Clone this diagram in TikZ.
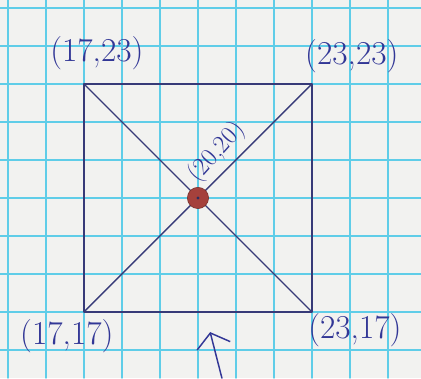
\documentclass[tikz,border=0pt]{standalone}
\usepackage{tikz}
\usetikzlibrary{arrows.meta,calc,positioning}
\definecolor{paperwhite}{RGB}{242,242,240}
\definecolor{gridcyan}{RGB}{95,205,232}
\definecolor{inkblue}{RGB}{55,58,120}
\definecolor{penblue}{RGB}{50,55,150}
\definecolor{dotred}{RGB}{165,65,60}

\tikzset{
  corner label/.style={text=penblue,font=\fontsize{25}{27}\selectfont,inner sep=0pt},
}

\begin{document}
\begin{tikzpicture}[>=Stealth,line cap=round,line join=round,x=1cm,y=1cm]
 \useasboundingbox (14.79,15.26) rectangle (25.87,25.21);
 \fill[paperwhite] (14.79,15.26) rectangle (25.87,25.21);
 \draw[gridcyan,line width=.9pt] (14.79,15.26) grid[step=1] (25.87,25.21);
 \coordinate (ll) at (17,17);
 \coordinate (lr) at (23,17);
 \coordinate (ur) at (23,23);
 \coordinate (ul) at (17,23);
 \draw[inkblue,line width=1.2pt] (ll) -- (lr) -- (ur) -- (ul) -- cycle;
 \draw[inkblue,line width=1pt] (ll) -- (ur);
 \draw[inkblue,line width=1pt] (ul) -- (lr);
 \node[circle,fill=dotred,draw=dotred!70!black,minimum size=.56cm,inner sep=0pt] (c) at (20,20) {};
 \fill[inkblue!80!black] (c) circle(1.2pt);
 \node[corner label] (ulab) at (17.34,23.82) {(17,23)};
 \node[corner label] (urlab) at (24.05,23.74) {(23,23)};
 \node[corner label] (lllab) at (16.55,16.37) {(17,17)};
 \node[corner label] (lrlab) at (24.13,16.53) {(23,17)};
 \node[text=penblue,font=\fontsize{19}{21}\selectfont,rotate=48,inner sep=0pt] (clab) at (20.5,21.2) {(20,20)};
 \coordinate (tail) at (20.63,15.26);
 \coordinate (tip) at (20.32,16.47);
 \draw[penblue,line width=1.1pt,-{Straight Barb[length=3.5mm,width=9mm]}] (tail) -- (tip);
\end{tikzpicture}
\end{document}
